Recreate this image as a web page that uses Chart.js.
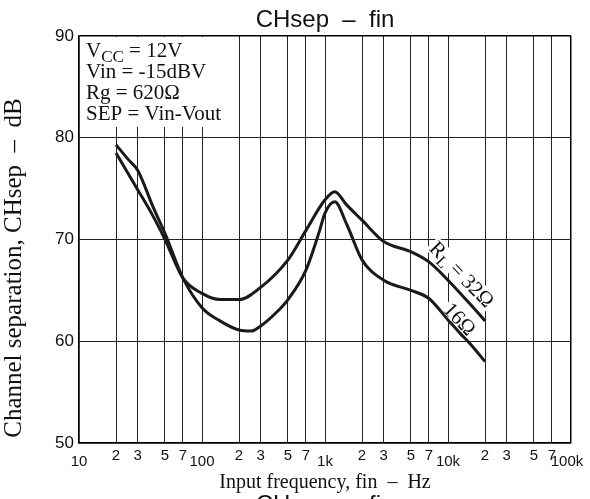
<!DOCTYPE html>
<html>
<head>
<meta charset="utf-8">
<script src="https://cdn.jsdelivr.net/npm/chart.js@4.4.1/dist/chart.umd.min.js"></script>
<style>
  html, body { margin: 0; padding: 0; background: #fff; }
  #wrap { width: 590px; height: 499px; }
</style>
</head>
<body>
<div id="wrap"><canvas id="sepChart" width="590" height="499"></canvas></div>
<script>
// curve values (Hz, dB)
const freq16 = [20, 25, 30, 40, 50, 70, 100, 140, 200, 250, 300, 400, 500, 700, 900, 1000, 1200, 1500, 2000, 3000, 5000, 7000, 10000, 12500, 15000, 20000];
const sep16  = [79.3, 77.9, 76.8, 73.2, 70.6, 66.2, 63.3, 62.0, 61.1, 61.0, 61.5, 62.8, 64.1, 67.0, 70.8, 72.6, 73.7, 71.5, 68.0, 66.0, 65.0, 64.2, 62.1, 60.8, 59.8, 58.0];
const freq32 = [20, 30, 40, 50, 70, 100, 140, 200, 300, 500, 700, 1000, 1200, 1500, 2000, 3000, 5000, 7000, 10000, 15000, 20000];
const sep32  = [78.5, 74.9, 72.3, 70.0, 66.2, 64.7, 64.1, 64.1, 65.3, 68.0, 70.9, 73.9, 74.7, 73.4, 71.9, 69.8, 68.8, 67.8, 66.0, 63.7, 62.0];

// axis ticks
const gridFreqs = [10, 20, 30, 50, 70, 100, 200, 300, 500, 700, 1000, 2000, 3000, 5000, 7000, 10000, 20000, 30000, 50000, 70000, 100000];
const minorFreqs = [20, 30, 50, 70, 200, 300, 500, 700, 2000, 3000, 5000, 7000, 20000, 30000, 50000, 70000];
const minorText  = ['2', '3', '5', '7', '2', '3', '5', '7', '2', '3', '5', '7', '2', '3', '5', '7'];
const decadeFreqs = [10, 100, 1000, 10000, 100000];
const decadeText  = ['10', '100', '1k', '10k', '100k'];
const yMin = 50, yMax = 90, yStep = 10;

const conditions = ['Vin = -15dBV', 'Rg = 620Ω', 'SEP = Vin-Vout'];

const SANS = '"Liberation Sans", Arial, Helvetica, sans-serif';
const SERIF = '"Liberation Serif", "Times New Roman", serif';
const INK = '#111';
const GRID = '#222';

function toPoints(fs, vs){ return fs.map((f, i) => ({ x: f, y: vs[i] })); }

// draw a run of text pieces (for subscripts), centred on cx,cy, optionally rotated
function drawParts(ctx, parts, cx, cy, angle, bgH){
  ctx.save();
  ctx.translate(cx, cy);
  ctx.rotate(angle || 0);
  let w = 0;
  parts.forEach(p => { ctx.font = p.size + 'px ' + SERIF; p.w = ctx.measureText(p.t).width; w += p.w; });
  if(bgH){ ctx.fillStyle = '#fff'; ctx.fillRect(-w/2 - 2, -bgH/2, w + 4, bgH); }
  ctx.fillStyle = INK;
  ctx.textAlign = 'left';
  ctx.textBaseline = 'alphabetic';
  let x = -w/2;
  parts.forEach(p => { ctx.font = p.size + 'px ' + SERIF; ctx.fillText(p.t, x, 7 + (p.dy || 0)); x += p.w; });
  ctx.restore();
}

const decor = {
  id: 'decor',
  beforeDatasetsDraw(chart){
    const { ctx, chartArea: a } = chart;
    const xs = chart.scales.x, ys = chart.scales.y;
    // conditions box hides the grid in the upper left
    ctx.save();
    ctx.fillStyle = '#fff';
    ctx.fillRect(a.left + 1, a.top + 1, 146, 90);
    ctx.restore();

    // curve labels knock out the grid, curves are drawn over them
    drawParts(ctx, [{ t: 'R', size: 21 }, { t: 'L', size: 16, dy: 4 }, { t: ' = 32Ω', size: 21 }],
      xs.getPixelForValue(13000), ys.getPixelForValue(66.6), 0.80, 18);
    drawParts(ctx, [{ t: '16Ω', size: 21 }],
      xs.getPixelForValue(12500), ys.getPixelForValue(62.2), 0.82, 18);
  },
  afterDraw(chart){
    const { ctx, chartArea: a } = chart;
    const xs = chart.scales.x;
    ctx.save();

    // conditions text
    ctx.fillStyle = INK;
    ctx.textAlign = 'left';
    ctx.textBaseline = 'alphabetic';
    let x = 86;
    ctx.font = '21px ' + SERIF;
    ctx.fillText('V', x, 57); x += ctx.measureText('V').width;
    ctx.font = '17px ' + SERIF;
    ctx.fillText('CC', x, 62); x += ctx.measureText('CC').width;
    ctx.font = '21px ' + SERIF;
    ctx.fillText(' = 12V', x, 57);
    conditions.forEach((t, i) => ctx.fillText(t, 86, 78 + i * 21));

    // x tick labels
    ctx.textAlign = 'center';
    ctx.textBaseline = 'middle';
    ctx.font = '15px ' + SANS;
    minorFreqs.forEach((f, i) => ctx.fillText(minorText[i], xs.getPixelForValue(f), a.bottom + 13));
    decadeFreqs.forEach((f, i) => {
      let px = xs.getPixelForValue(f);
      if(i === decadeFreqs.length - 1) px -= 4;
      ctx.fillText(decadeText[i], px, a.bottom + 19);
    });

    // titles
    ctx.font = '24px ' + SANS;
    ctx.textBaseline = 'alphabetic';
    ctx.fillText('CHsep  –  fin', (a.left + a.right) / 2, 27);
    ctx.font = '20px ' + SERIF;
    ctx.fillText('Input frequency, fin  –  Hz', (a.left + a.right) / 2, 488);
    ctx.save();
    ctx.translate(21, 268);
    ctx.rotate(-Math.PI / 2);
    ctx.font = '25px ' + SERIF;
    ctx.fillText('Channel separation, CHsep  –  dB', 0, 0);
    ctx.restore();

    // figure caption, cut by the bottom edge
    ctx.font = '24px ' + SANS;
    ctx.textBaseline = 'top';
    ctx.fillText('CHsep  –  fin', (a.left + a.right) / 2, 493);
    ctx.restore();
  }
};

const edge = (v, lo, hi) => v === lo || v === hi;

new Chart(document.getElementById('sepChart'), {
  type: 'line',
  data: {
    datasets: [
      { label: '16Ω', data: toPoints(freq16, sep16), borderColor: '#1a1a1a', borderWidth: 3,
        pointRadius: 0, cubicInterpolationMode: 'monotone', fill: false },
      { label: '32Ω', data: toPoints(freq32, sep32), borderColor: '#1a1a1a', borderWidth: 3,
        pointRadius: 0, cubicInterpolationMode: 'monotone', fill: false }
    ]
  },
  options: {
    responsive: false,
    animation: false,
    devicePixelRatio: 1,
    layout: { padding: { left: 0, right: 19, top: 36, bottom: 0 } },
    plugins: { legend: { display: false }, tooltip: { enabled: false } },
    scales: {
      x: {
        type: 'logarithmic', min: 10, max: 100000,
        afterBuildTicks: s => { s.ticks = gridFreqs.map(v => ({ value: v })); },
        afterFit: s => { s.height = 56; },
        ticks: { display: false },
        grid: {
          drawTicks: false,
          color: c => edge(c.tick && c.tick.value, 10, 100000) ? '#000' : GRID,
          lineWidth: c => edge(c.tick && c.tick.value, 10, 100000) ? 1.5 : 1
        },
        border: { color: '#000', width: 1.5 }
      },
      y: {
        min: yMin, max: yMax,
        afterBuildTicks: s => { s.ticks = []; for(let v = yMin; v <= yMax; v += yStep) s.ticks.push({ value: v }); },
        afterFit: s => { s.width = 79; },
        ticks: { color: INK, font: { family: SANS, size: 17 }, padding: 5 },
        grid: {
          drawTicks: false,
          color: c => edge(c.tick && c.tick.value, yMin, yMax) ? '#000' : GRID,
          lineWidth: c => edge(c.tick && c.tick.value, yMin, yMax) ? 1.5 : 1
        },
        border: { color: '#000', width: 1.5 }
      }
    }
  },
  plugins: [decor]
});
</script>
</body>
</html>
